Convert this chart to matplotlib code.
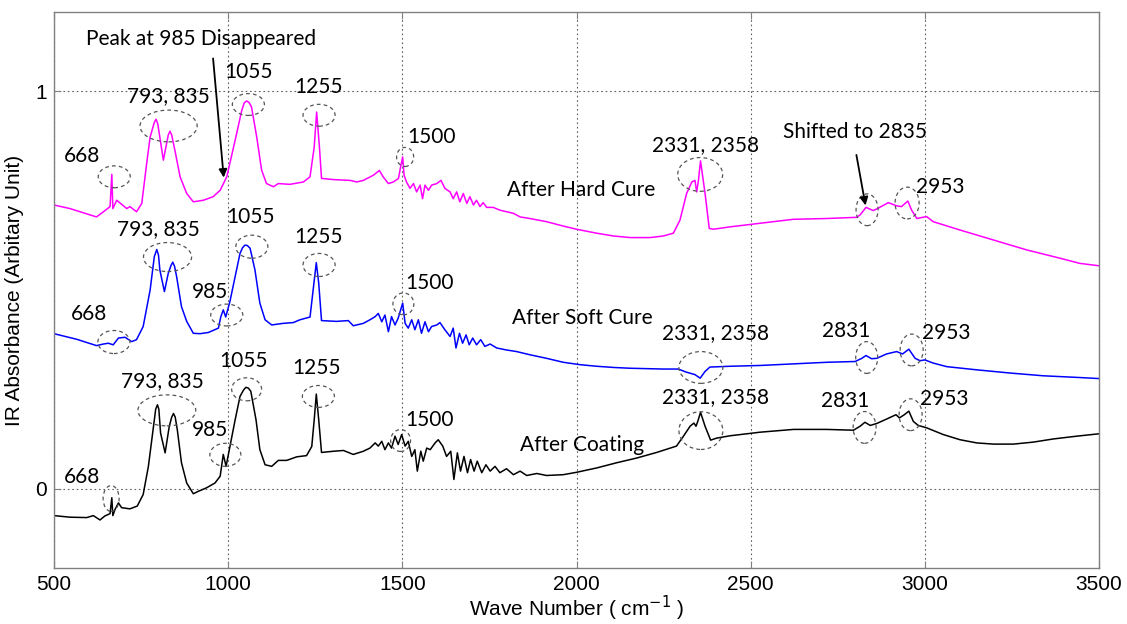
import matplotlib
matplotlib.use("Agg")
import matplotlib.pyplot as plt
from matplotlib.patches import Ellipse

# ---------------- data ----------------
wn_hard = [500, 546, 622, 642, 661, 666, 669, 680, 709, 718, 737, 752, 766, 776, 788, 793, 798, 814, 828, 833,
           838, 847, 862, 881,
           900, 929, 957, 977, 996, 1020, 1039, 1046, 1053, 1060, 1067, 1082, 1096, 1110, 1130, 1144, 1177, 1216,
           1235, 1247,
           1254, 1262, 1268, 1302, 1350, 1369, 1388, 1417, 1434, 1445, 1460, 1474, 1489, 1495, 1501, 1505, 1512,
           1522, 1532, 1541, 1551, 1558, 1565, 1575, 1584, 1599, 1611, 1622, 1637, 1646, 1656, 1665, 1675, 1685,
           1694, 1704, 1713, 1723, 1732, 1742, 1761, 1780, 1799, 1819, 1838, 1866, 1914, 1962, 2000, 2058, 2106,
           2154, 2211, 2249, 2278, 2297, 2316, 2331, 2340, 2345, 2350, 2356, 2369, 2381, 2393, 2441, 2527, 2622,
           2718, 2804, 2814, 2831, 2852, 2866, 2895, 2919, 2933, 2951, 2962, 2977, 3005, 3024, 3053, 3101, 3197,
           3292, 3388, 3445, 3500]
abs_hard = [0.714, 0.705, 0.684, 0.697, 0.710, 0.791, 0.705, 0.726, 0.705, 0.710, 0.697, 0.718, 0.818, 0.885,
            0.922, 0.930, 0.918, 0.827, 0.890, 0.900, 0.890, 0.852, 0.785, 0.743, 0.722, 0.726, 0.735, 0.751,
            0.785, 0.877, 0.952, 0.971, 0.976, 0.972,
            0.961, 0.885, 0.802, 0.768, 0.760, 0.768, 0.766, 0.772, 0.785, 0.860, 0.948, 0.860, 0.781, 0.778,
            0.776, 0.772, 0.776, 0.789, 0.801, 0.785, 0.768, 0.772, 0.781, 0.810, 0.835, 0.789, 0.772, 0.756,
            0.768, 0.747, 0.764, 0.730, 0.764, 0.751, 0.764, 0.768, 0.776, 0.756, 0.747, 0.730, 0.747, 0.722,
            0.743, 0.718, 0.735, 0.714, 0.726, 0.710, 0.720, 0.708, 0.708, 0.701, 0.697, 0.693, 0.684, 0.680,
            0.672, 0.661, 0.653, 0.643, 0.636, 0.632, 0.632, 0.636, 0.643, 0.676, 0.743, 0.772, 0.776, 0.747,
            0.776, 0.825, 0.743, 0.655, 0.653, 0.659, 0.668, 0.678, 0.680, 0.683, 0.689, 0.708, 0.700, 0.706,
            0.720, 0.712, 0.710, 0.724, 0.701, 0.680, 0.685, 0.672, 0.664, 0.651, 0.626, 0.601, 0.580, 0.567,
            0.561]

wn_soft = [500, 565, 622, 642, 656, 670, 685, 704, 723, 737, 756, 776, 788, 795, 800, 804, 817, 828, 836, 841,
           846, 852, 866,
           881, 900, 919, 943, 972, 979, 986, 993, 1005, 1020, 1034, 1041, 1048, 1055, 1063, 1077, 1091, 1106,
           1125, 1158,
           1187, 1206, 1235, 1246, 1253, 1260, 1268, 1311, 1345, 1359, 1388, 1407, 1422, 1431, 1441, 1450, 1460,
           1469, 1479, 1488, 1501, 1508, 1517, 1527, 1536, 1546, 1555, 1565, 1575, 1584, 1599, 1608, 1622, 1637,
           1646, 1654, 1664, 1673, 1683, 1692, 1702, 1713, 1725, 1737, 1752, 1771, 1799, 1828, 1866, 1914, 1962,
           2010, 2058, 2106, 2154, 2201, 2249, 2292, 2316, 2340, 2355, 2369, 2383, 2441, 2527, 2623, 2718, 2800,
           2819, 2831, 2847, 2862, 2890, 2919, 2936, 2954, 2972, 2986, 3000, 3024, 3063, 3149, 3244, 3340, 3436,
           3500]
abs_soft = [0.390, 0.376, 0.360, 0.364, 0.366, 0.362, 0.379, 0.381, 0.370, 0.375, 0.408, 0.500, 0.584, 0.602,
            0.588, 0.550, 0.496, 0.542, 0.562, 0.570, 0.560, 0.534, 0.458, 0.421, 0.391, 0.390, 0.393, 0.404,
            0.433, 0.450, 0.432, 0.471, 0.534, 0.592, 0.606, 0.613, 0.612, 0.605, 0.550, 0.467, 0.425, 0.412,
            0.416, 0.418, 0.425, 0.432, 0.517,
            0.569, 0.517, 0.423, 0.421, 0.423, 0.410, 0.416, 0.425, 0.433, 0.441, 0.420, 0.437, 0.395, 0.433,
            0.412, 0.429, 0.467, 0.416, 0.404, 0.425, 0.400, 0.425, 0.391, 0.420, 0.395, 0.408, 0.412, 0.418,
            0.400, 0.383, 0.404, 0.354, 0.391, 0.366, 0.387, 0.362, 0.379, 0.362, 0.375, 0.358, 0.364, 0.354,
            0.349, 0.345, 0.337, 0.328, 0.318, 0.312, 0.308, 0.305, 0.303, 0.302, 0.301, 0.301, 0.293, 0.287,
            0.278, 0.295, 0.306, 0.308, 0.310, 0.314, 0.318, 0.320, 0.328, 0.335, 0.327, 0.328, 0.339, 0.345,
            0.339, 0.351, 0.328, 0.322, 0.324, 0.316, 0.307, 0.299, 0.291, 0.284, 0.280, 0.277]

wn_coat = [500, 546, 594, 613, 632, 646, 661, 666, 669, 675, 685, 694, 718, 739, 756, 771, 785, 792, 797, 801,
           806, 819,
           831, 838, 843, 848, 854, 866, 881, 900, 914, 938, 962, 977, 986, 994, 1005, 1020, 1034, 1044, 1051,
           1058, 1065, 1080, 1091,
           1106, 1125, 1144, 1168, 1197, 1225, 1240, 1247, 1253, 1260, 1268, 1302, 1331, 1359, 1388, 1407, 1422,
           1431, 1441, 1450, 1460, 1469, 1479, 1488, 1498, 1508, 1517, 1527, 1536, 1543, 1553, 1560, 1570, 1580,
           1594, 1603, 1616, 1627, 1639, 1648, 1658, 1667, 1677, 1687, 1696, 1706, 1715, 1728, 1740, 1752, 1766,
           1780, 1799, 1819, 1838, 1857, 1886, 1914, 1962, 2000, 2058, 2115, 2173, 2230, 2287, 2307, 2326, 2337,
           2343, 2348, 2356, 2369, 2385, 2402, 2441, 2527, 2623, 2718, 2795, 2814, 2828, 2843, 2862, 2890, 2917,
           2927, 2941, 2954, 2967, 2981, 3005, 3053, 3101, 3149, 3197, 3254, 3311, 3369, 3436, 3500]
abs_coat = [-0.068, -0.072, -0.073, -0.068, -0.079, -0.069, -0.063, -0.023, -0.068, -0.053, -0.036, -0.048,
            -0.051, -0.044, -0.015, 0.056, 0.153, 0.200, 0.211, 0.200, 0.140, 0.090, 0.157, 0.180, 0.189, 0.180,
            0.148, 0.065, 0.014, -0.013,
            -0.007, 0.002, 0.014, 0.031, 0.086, 0.056, 0.106, 0.173, 0.232, 0.248, 0.255, 0.253, 0.245, 0.173,
            0.098, 0.060,
            0.056, 0.071, 0.071, 0.080, 0.083, 0.106, 0.173, 0.238, 0.173, 0.091, 0.094, 0.096, 0.086, 0.094,
            0.102, 0.115, 0.107, 0.119, 0.098, 0.115, 0.102, 0.132, 0.111, 0.136, 0.107, 0.119, 0.081, 0.098,
            0.044, 0.094, 0.069, 0.102, 0.098, 0.115, 0.123, 0.107, 0.081, 0.094, 0.023, 0.090, 0.044, 0.081,
            0.040, 0.073, 0.044, 0.069, 0.040, 0.060, 0.044, 0.056, 0.040, 0.050, 0.035, 0.044, 0.033, 0.038,
            0.033, 0.035, 0.041, 0.052, 0.065, 0.077, 0.091, 0.107, 0.132, 0.157, 0.165, 0.157, 0.169, 0.192,
            0.157, 0.122, 0.127, 0.133, 0.142, 0.149, 0.149, 0.147, 0.157, 0.167, 0.159, 0.164, 0.175, 0.186,
            0.178, 0.186, 0.195, 0.169, 0.159, 0.153, 0.136, 0.123, 0.115, 0.112, 0.112, 0.117, 0.125, 0.132,
            0.138]

x_ticks = [500, 1000, 1500, 2000, 2500, 3000, 3500]
y_ticks = [0, 1]

# annotation labels: (text, x, y)
labels = [
    ("793, 835", 827, 0.987), ("1055", 1057, 1.048), ("1255", 1258, 1.010), ("668", 580, 0.837),
    ("1500", 1585, 0.884), ("2331, 2358", 2369, 0.864), ("After Hard Cure", 2013, 0.751),
    ("2953", 3044, 0.759),
    ("793, 835", 799, 0.653), ("1055", 1063, 0.683), ("1255", 1258, 0.633), ("985", 948, 0.495),
    ("668", 600, 0.440), ("1500", 1579, 0.518), ("After Soft Cure", 2016, 0.430),
    ("2331, 2358", 2398, 0.392), ("2831", 2774, 0.397), ("2953", 3061, 0.392),
    ("793, 835", 810, 0.271), ("1055", 1044, 0.322), ("1255", 1255, 0.304), ("985", 948, 0.148),
    ("668", 580, 0.028), ("1500", 1577, 0.173), ("After Coating", 2016, 0.111),
    ("2331, 2358", 2398, 0.231), ("2831", 2771, 0.221), ("2953", 3055, 0.226),
]
# dashed ellipses: (x, y, width, height)
ellipses = [
    (673, 0.785, 92, 0.055), (829, 0.913, 164, 0.080), (1058, 0.967, 92, 0.055), (1261, 0.940, 92, 0.055),
    (1508, 0.835, 49, 0.048), (2355, 0.791, 129, 0.085), (2834, 0.702, 63, 0.080), (2949, 0.719, 69, 0.080),
    (826, 0.583, 138, 0.073), (1068, 0.609, 92, 0.058), (1261, 0.563, 92, 0.058), (996, 0.437, 92, 0.055),
    (672, 0.369, 92, 0.058), (1503, 0.465, 60, 0.055), (2357, 0.305, 126, 0.080), (2833, 0.330, 63, 0.080),
    (2962, 0.349, 66, 0.080),
    (824, 0.197, 166, 0.078), (1053, 0.250, 86, 0.058), (1259, 0.232, 92, 0.055), (992, 0.085, 89, 0.058),
    (664, -0.025, 46, 0.065), (1495, 0.121, 57, 0.055), (2357, 0.146, 126, 0.095), (2827, 0.154, 66, 0.080),
    (2959, 0.186, 66, 0.080),
]
# arrows: (text, text_x, text_y, tail_x, tail_y, head_x, head_y)
arrows = [
    ("Peak at 985 Disappeared", 922, 1.131, 956, 1.090, 988, 0.776),
    ("Shifted to 2835", 2800, 0.897, 2802, 0.847, 2831, 0.706),
]

# ---------------- figure ----------------
fig = plt.figure(figsize=(11.27, 6.24), dpi=100)
ax = fig.add_axes([0.0479, 0.0897, 0.9273, 0.8911])

ax.plot(wn_hard, abs_hard, color="#ff00ff", lw=1.1)
ax.plot(wn_soft, abs_soft, color="#0000ff", lw=1.1)
ax.plot(wn_coat, abs_coat, color="#000000", lw=1.1)

ax.set_xlim(500, 3500)
ax.set_ylim(-0.2, 1.2)
ax.set_xticks(x_ticks)
ax.set_yticks(y_ticks)
ax.set_xticklabels([str(t) for t in x_ticks])
ax.set_yticklabels([str(t) for t in y_ticks])

for lab in ax.get_xticklabels() + ax.get_yticklabels():
    lab.set_fontfamily("Liberation Sans")
    lab.set_fontsize(15)
ax.tick_params(direction="in", top=True, right=True, length=5, color="#808080", pad=5)
for s in ax.spines.values():
    s.set_color("#808080")
    s.set_linewidth(1.0)
ax.grid(True, linestyle=(0, (1.5, 2.5)), color="#606060", lw=0.8)
ax.set_axisbelow(True)

ax.set_xlabel("Wave Number ( cm$^{-1}$ )", fontfamily="Liberation Sans", fontsize=15, labelpad=0)
ax.set_ylabel("IR Absorbance (Arbitary Unit)", fontfamily="Liberation Sans", fontsize=15, labelpad=8)

ann_font = dict(family="Lato", size=15, color="black")
for txt, x, y in labels:
    ax.text(x, y, txt, ha="center", va="center", zorder=5, **ann_font)

for x, y, w, h in ellipses:
    ax.add_patch(Ellipse((x, y), w, h, fill=False, edgecolor="#555555", lw=0.9,
                         linestyle=(0, (3, 2.5)), zorder=4))

for txt, tx, ty, x0, y0, x1, y1 in arrows:
    ax.text(tx, ty, txt, ha="center", va="center", zorder=5, **ann_font)
    ax.annotate("", xy=(x1, y1), xytext=(x0, y0),
                arrowprops=dict(arrowstyle="-|>", color="black", lw=1.3, mutation_scale=12), zorder=6)

fig.savefig("out.png", dpi=100)
